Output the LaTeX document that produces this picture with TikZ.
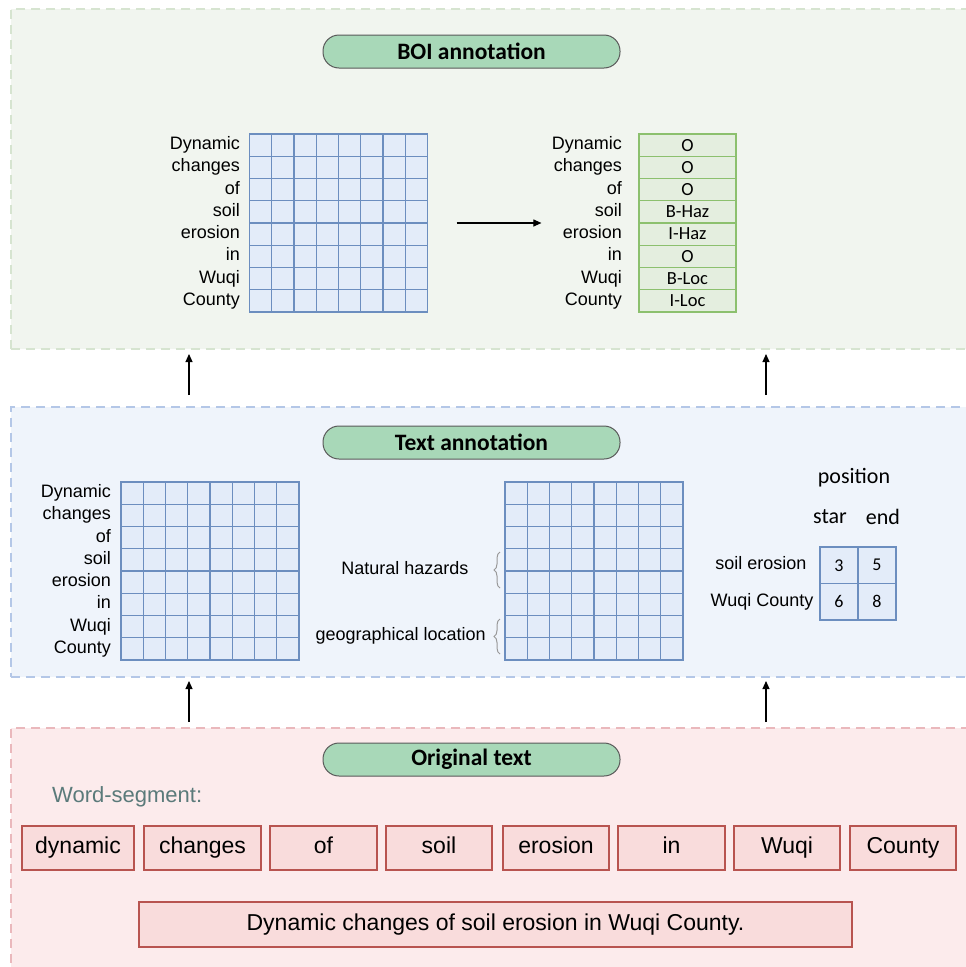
\documentclass[tikz,border=0pt]{standalone}
\usepackage{fontspec}
\setmainfont{Liberation Sans}
\newfontfamily\calfont{Carlito}
\usepackage{tikz}
\usetikzlibrary{
  arrows.meta, positioning, calc, decorations.pathreplacing
}
\definecolor{boibg}{RGB}{241,245,239}
\definecolor{boiline}{RGB}{214,228,208}
\definecolor{txtbg}{RGB}{239,244,251}
\definecolor{txtline}{RGB}{180,199,231}
\definecolor{orgbg}{RGB}{252,235,236}
\definecolor{orgline}{RGB}{234,184,188}
\definecolor{pillfill}{RGB}{168,216,184}
\definecolor{gridblue}{RGB}{108,142,191}
\definecolor{gridfill}{RGB}{227,236,249}
\definecolor{tagline}{RGB}{140,192,110}
\definecolor{tagfill}{RGB}{228,238,223}
\definecolor{wordline}{RGB}{184,84,80}
\definecolor{wordfill}{RGB}{249,220,220}
\definecolor{segtext}{RGB}{90,122,122}

% inner lines of an 8x8 token matrix
\newcommand{\matgrid}[1]{%
  \foreach \k in {1,...,7} {
    \draw[gridlines] ($(#1.north west)+(22.25*\k,0)$) -- ($(#1.south west)+(22.25*\k,0)$);
    \draw[gridlines] ($(#1.north west)+(0,22.25*\k)$) -- ($(#1.north east)+(0,22.25*\k)$);
  }}

\begin{document}
\begin{tikzpicture}[
  x=1pt, y=-1pt,
  panel/.style={dash pattern=on 9pt off 6pt, line width=1.5pt,
    anchor=north west, inner sep=0, minimum width=962pt},
  pill/.style={draw=black!65, fill=pillfill, line width=1pt,
    rounded corners=16pt, minimum width=297pt, minimum height=33pt,
    font=\fontsize{23.5}{25}\selectfont\calfont\bfseries},
  matbox/.style={draw=gridblue, fill=gridfill, line width=1.2pt,
    minimum width=178pt, minimum height=178pt, inner sep=0, outer sep=0},
  gridlines/.style={draw=gridblue, line width=1.2pt},
  rowlab/.style={anchor=east, inner sep=0, font=\fontsize{18}{20}\selectfont,
    text height=13pt, text depth=4pt},
  tagcell/.style={draw=tagline, fill=tagfill, line width=1.2pt,
    minimum width=97pt, minimum height=22.25pt, inner sep=0,
    font=\fontsize{18.5}{20}\selectfont\calfont},
  poscell/.style={draw=gridblue, fill=gridfill, line width=1.2pt,
    minimum width=38pt, minimum height=36.5pt, inner sep=0, outer sep=0,
    font=\fontsize{18}{20}\selectfont\calfont},
  poslab/.style={inner sep=0, font=\fontsize{22}{24}\selectfont\calfont},
  wordbox/.style={draw=wordline, fill=wordfill, line width=1.5pt,
    minimum width=106pt, minimum height=44pt, inner sep=0, outer sep=0,
    text height=16pt, text depth=5pt,
    font=\fontsize{23}{25}\selectfont},
  arr/.style={-{Triangle[length=8pt,width=7pt]}, line width=1.1pt},
  hbrace/.style={decorate, decoration={brace,amplitude=6pt},
    draw=black!40, line width=1pt}
]
  \useasboundingbox (0,0) rectangle (966,967);

  %% stage panels
  \node[panel, draw=boiline, fill=boibg, minimum height=340pt] (boipanel) at (10,8) {};
  \node[panel, draw=txtline, fill=txtbg, minimum height=270pt] (txtpanel) at (10,406) {};
  \node[panel, draw=orgline, fill=orgbg, minimum height=250pt] (orgpanel) at (10,727) {};

  \node[pill] (boititle) at (471.5,51.5)  {BOI annotation};
  \node[pill] (txttitle) at (471.5,442.5) {Text annotation};
  \node[pill] (orgtitle) at (471.5,759.5) {Original text};

  %% BOI annotation
  \node[matbox] (boimat) at (338.5,223) {};
  \matgrid{boimat}
  \foreach \w [count=\i] in {Dynamic,changes,of,soil,erosion,in,Wuqi,County}
    \node[rowlab] (boiw\i) at (240,{122.875+22.25*\i}) {\w};

  \foreach \t [count=\i] in {O,O,O,B-Haz,I-Haz,O,B-Loc,I-Loc}
    \node[tagcell] (tag\i) at (687.5,{122.875+22.25*\i}) {\t};
  \foreach \w [count=\i] in {Dynamic,changes,of,soil,erosion,in,Wuqi,County}
    \node[rowlab] (tagw\i) at (622,{122.875+22.25*\i}) {\w};

  \draw[arr] ([xshift=29pt]boimat.east) -- ([xshift=-97pt]tag4.west |- boimat.east);

  %% Text annotation
  \node[matbox] (txtmat) at (210,571) {};
  \matgrid{txtmat}
  \foreach \w [count=\i] in {Dynamic,changes,of,soil,erosion,in,Wuqi,County}
    \node[rowlab] (txtw\i) at (111,{470.875+22.25*\i}) {\w};

  \node[matbox] (spanmat) at (594,571) {};
  \matgrid{spanmat}

  \coordinate (hazlo) at (500,588);
  \coordinate (hazhi) at (500,552);
  \draw[hbrace] (hazlo) -- (hazhi);
  \node[rowlab, anchor=center] (hazlab) at (405,570) {Natural hazards};
  \coordinate (loclo) at (500,654);
  \coordinate (lochi) at (500,619);
  \draw[hbrace] (loclo) -- (lochi);
  \node[rowlab] (loclab) at (486,636) {geographical location};

  \node[poslab] (posname) at (854,478) {position};
  \node[poslab] (startname) at (830,517) {star};
  \node[poslab] (endname) at (883,517) {end};
  \node[poscell] (p11) at (839,565.25) {3};
  \node[poscell, right=0pt of p11] (p12) {5};
  \node[poscell, below=0pt of p11] (p21) {6};
  \node[poscell, right=0pt of p21] (p22) {8};
  \node[rowlab, anchor=center] (hazword) at (761,565) {soil erosion};
  \node[rowlab, anchor=center] (locword) at (762,602) {Wuqi County};

  %% stage arrows
  \coordinate (up1s) at (189,395);
  \coordinate (up1e) at (189,354);
  \coordinate (up2s) at (766,395);
  \coordinate (up2e) at (766,354);
  \coordinate (up3s) at (189,722);
  \coordinate (up3e) at (189,681);
  \coordinate (up4s) at (766,722);
  \coordinate (up4e) at (766,681);
  \foreach \k in {1,...,4}
    \draw[arr] (up\k s) -- (up\k e);

  %% Original text
  \node[anchor=west, inner sep=0, text=segtext,
    font=\fontsize{22}{24}\selectfont] (seglab) at (52,797) {Word-segment:};
  \node[wordbox, minimum width=112pt] (w1) at (78,848) {dynamic};
  \node[wordbox, minimum width=117pt, right=10pt of w1] (w2) {changes};
  \node[wordbox, minimum width=107pt, right=9pt of w2]  (w3) {of};
  \node[wordbox, right=9pt of w3]  (w4) {soil};
  \node[wordbox, right=11pt of w4] (w5) {erosion};
  \node[wordbox, minimum width=107pt, right=9pt of w5]  (w6) {in};
  \node[wordbox, right=9pt of w6]  (w7) {Wuqi};
  \node[wordbox, right=10pt of w7] (w8) {County};

  \node[wordbox, minimum width=713pt, minimum height=45pt] (sent) at (495.5,924.5)
    {Dynamic changes of soil erosion in Wuqi County.};
\end{tikzpicture}
\end{document}
